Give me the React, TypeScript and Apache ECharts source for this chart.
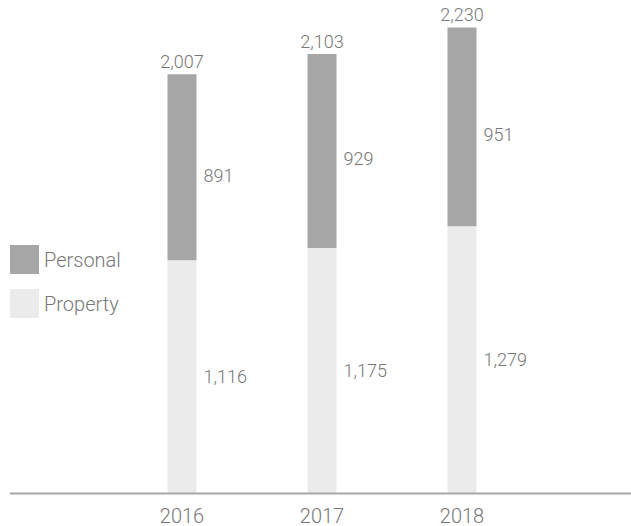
import React, { useEffect, useRef } from "react";
import * as echarts from "echarts";

const categories = ["2016", "2017", "2018"];
const personal = [891, 929, 951];
const property = [1116, 1175, 1279];
const totals = [2007, 2103, 2230];

const fmt = (v: number) => v.toLocaleString("en-US");
const FONT = "Roboto";
const TEXT = "#777777";

export default function App() {
  const ref = useRef<HTMLDivElement>(null);
  useEffect(() => {
    if (!ref.current) return;
    const chart = echarts.init(ref.current, null, { renderer: "svg" });
    chart.setOption({
      animation: false,
      backgroundColor: "#ffffff",
      textStyle: { fontFamily: FONT, fontWeight: 300, color: TEXT },
      legend: {
        orient: "vertical",
        left: 10,
        top: 245,
        padding: 0,
        itemWidth: 29,
        itemHeight: 29,
        itemGap: 15,
        data: ["Personal", "Property"],
        textStyle: { fontFamily: FONT, fontWeight: 300, fontSize: 20, color: TEXT },
        icon: "rect",
        selectedMode: false,
      },
      grid: { left: 112, right: 99, top: 13, bottom: 32.5 },
      xAxis: {
        type: "category",
        data: categories,
        axisLine: { show: false },
        axisTick: { show: false },
        axisLabel: {
          fontFamily: FONT,
          fontWeight: 300,
          fontSize: 20,
          lineHeight: 16,
          color: TEXT,
          margin: 14,
        },
      },
      yAxis: {
        type: "value",
        min: 0,
        max: 2300,
        show: false,
        splitLine: { show: false },
      },
      series: [
        {
          name: "Property",
          type: "bar",
          stack: "a",
          barWidth: 29,
          data: property,
          itemStyle: { color: "#ebebeb" },
          label: {
            show: true,
            position: "right",
            distance: 7,
            fontFamily: FONT,
            fontWeight: 300,
            fontSize: 18,
            color: TEXT,
            formatter: (p: any) => fmt(p.value),
          },
        },
        {
          name: "Personal",
          type: "bar",
          stack: "a",
          barWidth: 29,
          data: personal,
          itemStyle: { color: "#a6a6a6" },
          label: {
            show: true,
            position: "right",
            distance: 7,
            offset: [0, 8],
            fontFamily: FONT,
            fontWeight: 300,
            fontSize: 18,
            color: TEXT,
            formatter: (p: any) => fmt(p.value),
          },
        },
        {
          name: "Total",
          type: "bar",
          barWidth: 29,
          barGap: "-100%",
          data: totals,
          itemStyle: { color: "rgba(0,0,0,0)" },
          silent: true,
          z: 1,
          label: {
            show: true,
            position: "top",
            distance: 4,
            fontFamily: FONT,
            fontWeight: 300,
            fontSize: 18,
            color: TEXT,
            formatter: (p: any) => fmt(p.value),
          },
        },
      ],
      graphic: [
        {
          type: "line",
          shape: { x1: 10, y1: 493.5, x2: 631, y2: 493.5 },
          style: { stroke: "#a8a8a8", lineWidth: 2 },
          z: 100,
        },
      ],
    });
    return () => chart.dispose();
  }, []);
  return (
    <div
      ref={ref}
      style={{ position: "fixed", left: 0, top: 0, width: 631, height: 526 }}
    />
  );
}
